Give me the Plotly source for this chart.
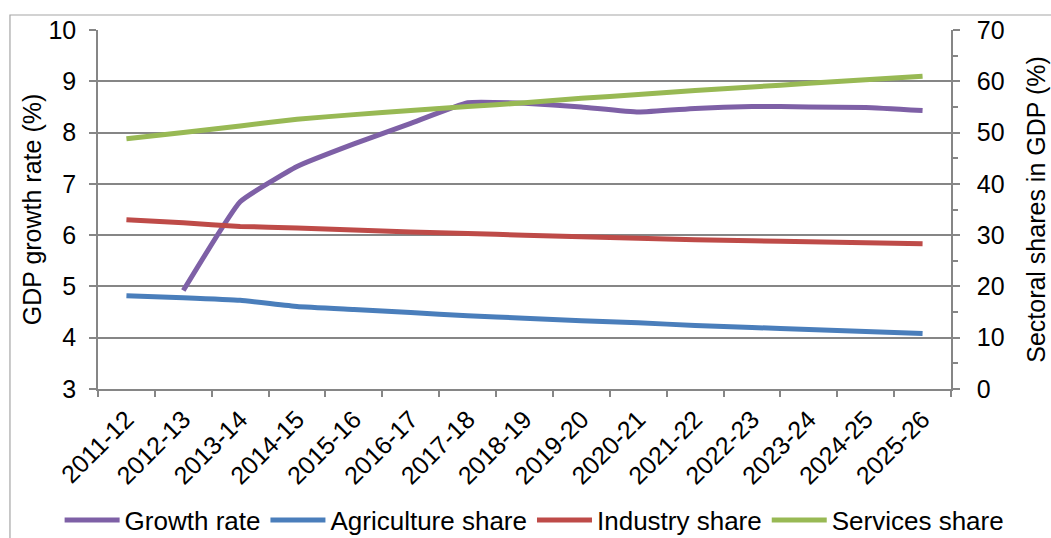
import plotly.graph_objects as go

# Fiscal years on the category axis
years = ["2011-12", "2012-13", "2013-14", "2014-15", "2015-16", "2016-17",
         "2017-18", "2018-19", "2019-20", "2020-21", "2021-22", "2022-23",
         "2023-24", "2024-25", "2025-26"]

# GDP growth rate (%), left axis; no value for the first year
growth_rate = [None, 4.92, 6.65, 7.34, 7.78, 8.18, 8.58, 8.57, 8.50, 8.40,
               8.47, 8.51, 8.50, 8.49, 8.43]

# Sectoral shares in GDP (%), right axis
agriculture_share = [18.2, 17.8, 17.3, 16.1, 15.5, 14.9, 14.3, 13.8, 13.3,
                     12.9, 12.4, 12.0, 11.6, 11.2, 10.8]
industry_share = [33.0, 32.4, 31.7, 31.4, 31.0, 30.6, 30.3, 30.0, 29.7,
                  29.4, 29.1, 28.9, 28.7, 28.5, 28.3]
services_share = [48.8, 50.0, 51.3, 52.6, 53.5, 54.3, 55.1, 55.8, 56.7,
                  57.4, 58.2, 58.9, 59.6, 60.3, 61.0]

FONT = "Liberation Sans, Arial, sans-serif"
GRID = "#868686"
LW = 5
TICK_SIZE = 25
LEGEND_SIZE = 26
SMOOTH = 0.35

fig = go.Figure()
fig.add_trace(go.Scatter(x=years, y=growth_rate, name="Growth rate",
                         mode="lines", yaxis="y",
                         line=dict(color="#7E60A6", width=LW, shape="spline", smoothing=SMOOTH)))
fig.add_trace(go.Scatter(x=years, y=agriculture_share, name="Agriculture share",
                         mode="lines", yaxis="y2",
                         line=dict(color="#4A7EBB", width=LW, shape="spline", smoothing=SMOOTH)))
fig.add_trace(go.Scatter(x=years, y=industry_share, name="Industry share",
                         mode="lines", yaxis="y2",
                         line=dict(color="#BE4B48", width=LW, shape="spline", smoothing=SMOOTH)))
fig.add_trace(go.Scatter(x=years, y=services_share, name="Services share",
                         mode="lines", yaxis="y2",
                         line=dict(color="#98B954", width=LW, shape="spline", smoothing=SMOOTH)))

fig.update_layout(
    width=1051, height=538,
    margin=dict(l=98, r=100, t=30, b=149, pad=0, autoexpand=False),
    paper_bgcolor="white", plot_bgcolor="white",
    font=dict(family=FONT, size=TICK_SIZE, color="black"),
    xaxis=dict(type="category", range=[-0.5, 14.5], tickangle=-45,
               ticks="outside", tickson="boundaries", ticklen=6, tickcolor=GRID,
               tickwidth=1.5, showline=True, linecolor=GRID, linewidth=1.5,
               showgrid=False, tickfont=dict(size=TICK_SIZE), automargin=False,
               ticklabelstandoff=4),
    yaxis=dict(range=[3, 10], dtick=1, ticks="outside", ticklen=7, tickcolor=GRID,
               tickwidth=1.5, showline=True, linecolor=GRID, linewidth=1.5,
               showgrid=True, gridcolor=GRID, gridwidth=1.5, zeroline=False,
               tickfont=dict(size=TICK_SIZE), automargin=False, ticklabelstandoff=8,
               title=dict(text="GDP growth rate (%)", font=dict(size=TICK_SIZE), standoff=0)),
    yaxis2=dict(range=[0, 70], dtick=10, overlaying="y", side="right",
                ticks="outside", ticklen=7, tickcolor=GRID, tickwidth=1.5,
                minor=dict(dtick=5, ticks="outside", ticklen=5, tickcolor=GRID, tickwidth=1.5),
                showline=True, linecolor=GRID, linewidth=1.5, showgrid=False,
                zeroline=False, tickfont=dict(size=TICK_SIZE), automargin=False,
                ticklabelstandoff=12,
                title=dict(text="Sectoral shares in GDP (%)", font=dict(size=TICK_SIZE), standoff=24)),
    legend=dict(orientation="h", x=-0.045, xanchor="left", y=-0.365, yanchor="middle",
                font=dict(size=LEGEND_SIZE), itemwidth=55, tracegroupgap=0,
                bgcolor="rgba(0,0,0,0)"),
    showlegend=True,
)

# Outer frame around the chart area
fig.add_shape(type="rect", xref="paper", yref="paper",
              x0=-0.1032, x1=1.2, y0=-0.6, y1=1.0418,
              line=dict(color="#A6A6A6", width=1.2), fillcolor="rgba(0,0,0,0)", layer="below")

fig.write_html("out.html")
